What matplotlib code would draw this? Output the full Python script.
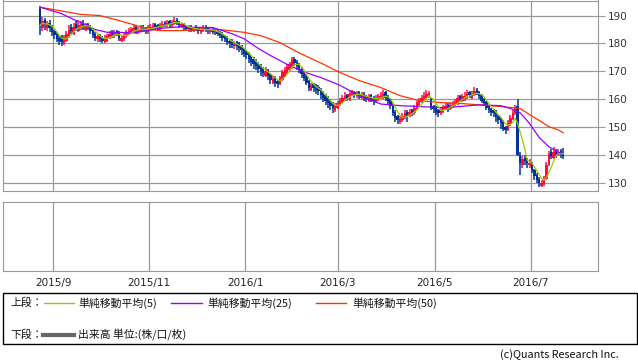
import numpy as np
import pandas as pd
import matplotlib
matplotlib.use("Agg")
import matplotlib.pyplot as plt
from matplotlib.patches import Rectangle
from matplotlib.lines import Line2D

# -----------------------------
# Daily prices (~Aug 2015 - Jul 2016)
opens = [
    192.5, 185.5, 188.5, 185.5, 187.5, 186.0, 184.5, 183.5, 182.0, 182.5,
    180.0, 181.0, 182.5, 186.0, 183.5, 187.0, 184.5, 185.5, 187.5, 185.0,
    187.0, 186.0, 185.0, 183.5, 181.5, 183.0, 182.0, 180.5, 181.0, 182.0,
    184.0, 182.5, 184.5, 184.0, 181.0, 181.5, 182.5, 183.5, 184.0, 184.5,
    186.0, 184.0, 184.5, 186.0, 185.5, 184.0, 185.0, 185.5, 187.0, 186.5,
    185.0, 186.0, 187.5, 186.5, 188.0, 186.5, 187.0, 188.5, 187.5, 186.0,
    187.0, 186.0, 184.5, 185.5, 184.5, 186.0, 185.5, 184.0, 184.5, 186.0,
    185.5, 184.0, 185.5, 184.5, 184.5, 184.0, 183.5, 182.5, 182.0, 181.0,
    180.5, 179.0, 180.5, 180.0, 179.0, 178.0, 177.0, 176.5, 175.5, 174.5,
    173.5, 172.5, 172.0, 171.0, 168.5, 170.5, 169.0, 166.0, 168.0, 166.5,
    165.5, 167.0, 168.5, 169.5, 170.5, 171.5, 174.5, 173.5, 172.5, 171.0,
    169.5, 168.5, 166.5, 163.5, 165.5, 165.0, 164.5, 163.5, 162.5, 161.5,
    160.5, 159.5, 158.5, 156.0, 157.0, 158.0, 159.0, 160.0, 161.5, 160.0,
    161.5, 162.5, 161.0, 162.5, 160.5, 162.0, 161.0, 159.5, 161.5, 160.5,
    159.0, 160.0, 160.5, 160.5, 162.5, 161.0, 160.0, 158.0, 155.5, 154.0,
    152.0, 152.5, 153.5, 155.5, 154.0, 156.0, 155.0, 156.5, 158.0, 159.0,
    160.0, 160.5, 161.5, 160.0, 157.5, 157.0, 156.0, 155.0, 155.5, 156.5,
    158.0, 156.5, 157.5, 158.0, 158.5, 161.0, 159.5, 160.0, 160.5, 162.5,
    160.5, 161.5, 163.5, 162.5, 161.5, 160.0, 159.0, 157.5, 156.5, 156.0,
    155.5, 154.0, 153.0, 152.0, 150.0, 149.0, 151.0, 153.0, 155.0, 157.5,
    139.5, 136.5, 139.0, 138.5, 136.5, 137.0, 134.5, 133.0, 131.5, 129.0,
    129.5, 131.5, 136.5, 141.0, 139.0, 141.5, 140.0, 141.5, 140.5,
]
highs = [
    193.5, 189.5, 189.0, 188.0, 188.5, 186.5, 185.0, 184.0, 183.0, 183.0,
    183.0, 184.5, 186.5, 187.0, 187.5, 188.5, 188.5, 188.0, 188.5, 187.5,
    187.5, 186.5, 185.5, 184.0, 183.5, 183.5, 182.5, 183.0, 183.5, 184.5,
    185.0, 185.0, 185.0, 184.5, 183.0, 184.0, 185.0, 185.5, 186.0, 186.5,
    186.5, 186.0, 186.5, 186.5, 186.0, 186.5, 187.0, 187.5, 187.5, 187.0,
    187.5, 188.0, 188.0, 188.5, 188.5, 188.5, 189.5, 189.0, 188.0, 187.5,
    187.5, 186.5, 186.5, 186.5, 186.0, 186.5, 186.0, 185.5, 186.5, 186.5,
    186.0, 186.0, 186.0, 185.0, 185.0, 184.5, 184.0, 183.0, 182.5, 181.5,
    181.5, 181.0, 181.0, 180.5, 179.5, 178.5, 177.5, 177.0, 176.0, 175.0,
    174.5, 173.5, 172.5, 171.5, 171.5, 171.0, 169.5, 168.5, 168.5, 167.0,
    168.5, 170.5, 171.5, 172.5, 173.5, 175.0, 175.0, 174.0, 173.0, 171.5,
    170.0, 169.0, 167.0, 166.0, 166.0, 165.5, 165.0, 164.0, 163.0, 162.0,
    161.0, 160.0, 159.0, 158.5, 159.5, 160.5, 161.5, 162.5, 162.0, 163.0,
    163.5, 163.0, 163.0, 163.0, 162.5, 162.5, 161.5, 162.0, 162.0, 161.0,
    161.5, 162.0, 162.5, 163.5, 163.0, 161.5, 160.5, 158.5, 156.0, 154.5,
    154.0, 155.0, 156.0, 156.0, 156.5, 156.5, 158.0, 159.5, 160.5, 161.5,
    162.5, 163.5, 163.0, 160.5, 158.0, 157.5, 156.5, 157.0, 158.0, 159.0,
    158.5, 159.0, 159.5, 160.0, 161.5, 161.5, 162.0, 162.5, 163.5, 163.0,
    163.0, 164.5, 164.0, 163.0, 162.0, 160.5, 159.5, 158.0, 157.0, 156.5,
    156.0, 154.5, 153.5, 152.5, 150.5, 152.5, 154.5, 156.0, 158.0, 160.2,
    141.0, 139.5, 140.0, 139.0, 138.5, 137.5, 135.0, 133.5, 132.0, 131.0,
    132.5, 137.5, 141.5, 142.0, 143.0, 142.0, 142.0, 142.0, 142.5,
]
lows = [
    183.0, 184.5, 185.0, 184.5, 184.0, 182.5, 181.5, 180.5, 179.5, 179.0,
    179.5, 180.5, 182.0, 183.5, 183.0, 184.5, 184.0, 185.0, 185.0, 184.5,
    185.0, 183.5, 182.0, 181.0, 180.5, 180.5, 180.0, 180.0, 180.5, 181.5,
    182.0, 182.0, 182.5, 181.0, 180.5, 181.0, 182.0, 183.0, 183.5, 184.0,
    183.5, 183.5, 184.0, 184.5, 183.5, 183.5, 184.5, 185.0, 185.0, 184.5,
    184.5, 185.5, 186.0, 186.0, 186.0, 186.0, 186.5, 186.5, 185.5, 185.5,
    185.0, 184.5, 184.0, 184.0, 184.0, 184.5, 183.5, 183.5, 184.0, 184.0,
    183.5, 183.5, 183.5, 183.0, 182.5, 182.0, 181.0, 180.5, 179.5, 178.5,
    178.5, 178.0, 177.5, 177.0, 176.0, 175.0, 174.5, 173.0, 172.0, 171.0,
    170.5, 169.5, 168.5, 168.0, 168.0, 167.0, 165.5, 165.5, 164.5, 164.0,
    165.0, 166.5, 168.0, 169.0, 170.0, 171.0, 172.0, 170.5, 169.5, 167.5,
    166.5, 165.0, 163.0, 163.0, 162.5, 162.0, 161.5, 160.0, 159.0, 158.0,
    157.0, 156.0, 155.0, 155.5, 156.5, 157.5, 158.5, 159.5, 159.5, 159.5,
    161.0, 160.5, 160.5, 160.0, 160.0, 159.5, 159.0, 159.0, 159.0, 158.0,
    158.5, 159.5, 160.0, 160.0, 159.5, 158.0, 156.5, 154.0, 152.0, 151.0,
    151.0, 152.0, 153.0, 152.0, 153.5, 154.0, 154.5, 156.0, 157.5, 158.5,
    159.5, 160.0, 160.5, 156.0, 155.0, 154.5, 153.5, 154.5, 155.0, 156.0,
    155.5, 156.0, 157.0, 157.5, 158.0, 159.0, 159.0, 159.5, 160.0, 160.5,
    160.0, 161.0, 161.5, 160.0, 158.5, 157.5, 156.0, 155.0, 154.0, 153.5,
    152.0, 151.0, 149.5, 148.5, 147.5, 148.5, 150.5, 152.5, 154.5, 139.5,
    133.0, 135.5, 136.5, 135.5, 135.5, 133.5, 131.0, 130.0, 128.5, 128.5,
    129.0, 131.0, 136.0, 138.5, 138.5, 139.0, 139.5, 139.0, 138.5,
]
closes = [
    186.5, 188.0, 186.5, 187.0, 185.5, 184.0, 183.0, 181.5, 181.0, 180.5,
    182.0, 183.5, 185.0, 184.5, 186.0, 185.5, 186.5, 187.0, 186.0, 186.5,
    186.0, 184.5, 183.0, 182.0, 182.5, 181.5, 181.0, 182.0, 182.5, 183.5,
    183.0, 184.0, 183.5, 182.0, 182.0, 183.0, 184.0, 184.5, 185.0, 185.5,
    184.5, 185.0, 185.5, 185.3, 184.5, 185.5, 186.0, 186.4, 186.0, 185.5,
    186.5, 187.0, 186.8, 187.5, 187.0, 187.8, 188.2, 187.5, 186.5, 186.8,
    186.0, 185.3, 185.5, 184.8, 185.5, 185.3, 184.5, 185.0, 185.5, 185.0,
    184.5, 185.0, 184.2, 184.0, 183.5, 183.0, 182.0, 181.7, 180.5, 180.0,
    179.5, 180.0, 179.0, 178.5, 177.5, 176.4, 176.0, 174.5, 173.5, 172.8,
    172.0, 171.0, 170.3, 169.5, 170.0, 168.5, 167.0, 167.4, 166.0, 165.6,
    167.5, 169.6, 170.5, 171.5, 172.5, 173.9, 173.0, 172.0, 170.5, 169.0,
    167.8, 166.0, 164.2, 165.0, 164.0, 163.5, 163.0, 161.5, 160.5, 159.5,
    158.5, 157.5, 156.7, 157.5, 158.8, 159.5, 160.5, 161.3, 160.5, 162.0,
    162.5, 161.5, 162.0, 161.0, 161.5, 160.6, 160.0, 161.0, 160.0, 159.5,
    160.5, 161.0, 161.3, 162.0, 160.5, 159.5, 157.5, 155.0, 153.4, 152.4,
    153.0, 154.0, 154.9, 154.5, 155.5, 155.2, 157.0, 158.5, 159.5, 160.5,
    161.3, 162.0, 162.4, 157.0, 156.5, 155.5, 155.2, 156.0, 157.0, 157.7,
    157.0, 158.0, 158.5, 159.0, 160.5, 160.2, 161.0, 161.3, 162.0, 161.5,
    162.0, 163.0, 162.4, 161.0, 159.5, 158.5, 157.0, 156.0, 155.5, 154.9,
    153.5, 152.4, 151.5, 149.5, 149.0, 151.5, 153.4, 155.0, 157.0, 140.0,
    137.0, 138.5, 138.0, 137.0, 137.3, 134.5, 132.5, 131.0, 130.0, 130.0,
    131.5, 136.5, 140.5, 139.5, 141.0, 140.5, 141.0, 140.0, 139.8,
]

# moving averages 25 / 50 (read at sample days, they use data before the window)
ma25_day = [0, 9, 15, 19, 23, 28, 32, 39, 45, 49, 54, 59, 64, 72, 80, 85, 91, 96, 103,
            110, 117, 125, 133, 142, 150, 158, 167, 175, 183, 192, 196, 200, 204, 208,
            212, 216, 218]
ma25_val = [193.0, 190.7, 188.2, 186.8, 185.0, 184.0, 184.0, 183.8, 184.6, 185.3, 185.7,
            186.0, 185.8, 185.7, 183.5, 181.7, 178.2, 175.7, 172.5, 169.8, 167.8, 165.0,
            161.3, 158.3, 157.7, 157.4, 157.0, 157.4, 158.0, 157.7, 156.7, 155.2, 151.3,
            146.3, 143.0, 141.0, 140.5]
ma50_day = [0, 8, 17, 25, 33, 42, 46, 50, 58, 67, 75, 85, 92, 100, 108, 117, 125, 133,
            142, 150, 158, 167, 175, 183, 192, 200, 204, 208, 212, 216, 218]
ma50_val = [193.0, 191.8, 190.4, 190.0, 188.2, 186.0, 185.0, 184.6, 184.6, 185.0, 185.0,
            184.0, 182.8, 180.3, 176.6, 173.0, 169.6, 166.7, 164.2, 161.3, 159.5, 158.8,
            158.5, 158.0, 157.4, 156.7, 154.5, 152.4, 150.2, 149.0, 148.0]

month_labels = ['2015/9', '2015/11', '2016/1', '2016/3', '2016/5', '2016/7']
month_pos = [5.5, 45.5, 85.5, 124, 164.5, 204.5]
price_ticks = [130, 140, 150, 160, 170, 180, 190]

# -----------------------------
# Figure & axes (pixel layout)
W, H = 638, 362
fig = plt.figure(figsize=(W / 100, H / 100), dpi=100)

def px_rect(x0, y0, x1, y1):
    return [x0 / W, 1 - y1 / H, (x1 - x0) / W, (y1 - y0) / H]

GRID = '#999999'
UP, DOWN = '#ff0a3c', '#00339a'
JP = ['Noto Sans CJK JP', 'DejaVu Sans']

ax = fig.add_axes(px_rect(3, 0.5, 598, 190.5))
ax2 = fig.add_axes(px_rect(3, 201.5, 598, 271))

# -----------------------------
# Candles
o, h, l, c = map(np.array, (opens, highs, lows, closes))
days = np.arange(len(c))
cols = np.where(c >= o, UP, DOWN)
ax.vlines(days, l, h, colors=cols, lw=1.1, zorder=3)
body = np.maximum(np.abs(c - o), 0.5)
ax.bar(days, body, bottom=np.minimum(o, c), width=1.0, color=cols, linewidth=0, zorder=3)

# moving averages
ma5 = pd.Series(closes).rolling(5, min_periods=1).mean()
ax.plot(ma50_day, ma50_val, color='#ff3300', lw=0.9, zorder=4)
ax.plot(ma25_day, ma25_val, color='#9900ff', lw=0.9, zorder=4)
ax.plot(days, ma5, color='#99cc00', lw=0.9, zorder=5)

xlim = (-15.4, 232.5)
ax.set_xlim(*xlim)
ax.set_ylim(127.3, 195.4)
ax.set_xticks(month_pos)
ax.set_xticklabels([])
ax.set_yticks(price_ticks)
ax.yaxis.tick_right()
ax.tick_params(axis='x', length=0)
ax.tick_params(axis='y', length=5, width=0.8, color=GRID, labelsize=7.5,
               labelcolor='#333333', pad=2)
ax.grid(True, color=GRID, lw=0.9, zorder=0)
for s in ax.spines.values():
    s.set_color(GRID)

# -----------------------------
# Volume panel (empty)
ax2.set_xlim(*xlim)
ax2.set_ylim(0, 1)
ax2.set_xticks(month_pos)
ax2.set_xticklabels(month_labels, fontsize=7.5, color='#222222')
ax2.set_yticks([])
ax2.tick_params(axis='x', length=0, pad=5)
ax2.grid(True, axis='x', color=GRID, lw=0.9)
for s in ax2.spines.values():
    s.set_color(GRID)

# -----------------------------
# Legend box
fig.add_artist(Rectangle((3 / W, 1 - 344 / H), 634 / W, 51 / H, transform=fig.transFigure,
                         fill=False, edgecolor='black', lw=1))

def legend_line(x0, x1, y, color, lw):
    fig.add_artist(Line2D([x0 / W, x1 / W], [1 - y / H, 1 - y / H],
                          transform=fig.transFigure, color=color, lw=lw))

def label(x, y, s, **kw):
    fig.text(x / W, 1 - y / H, s, va='center', fontsize=7.8, family=JP, color='#111111', **kw)

label(10, 303, '上段：')
legend_line(44, 73.5, 303, '#99cc00', 1)
label(78, 303, '単純移動平均(5)')
legend_line(171, 202, 303, '#9900ff', 1)
label(207, 303, '単純移動平均(25)')
legend_line(316, 346, 303, '#ff3300', 1)
label(352, 303, '単純移動平均(50)')

label(10, 335, '下段：')
legend_line(43, 73.5, 335, '#666666', 3)
label(78, 335, '出来高 単位:(株/口/枚)')

label(619, 355, '(c)Quants Research Inc.', ha='right')

fig.savefig('out.png', dpi=100)
